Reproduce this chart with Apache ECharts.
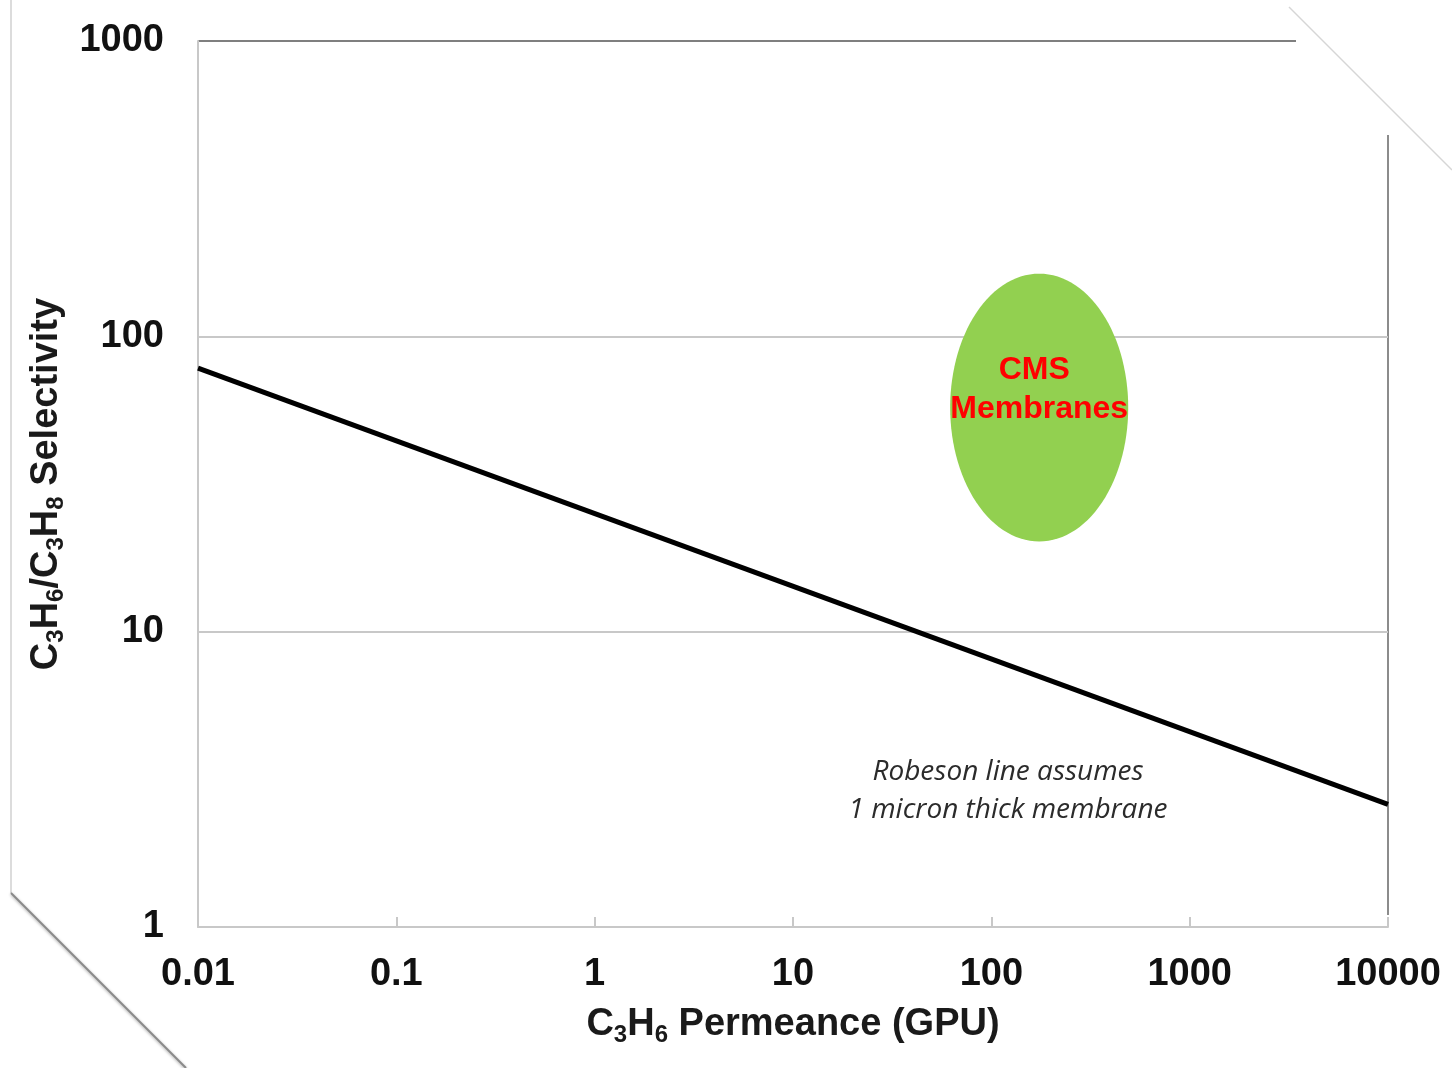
<!DOCTYPE html>
<html>
<head>
<meta charset="utf-8">
<title>C3H6/C3H8 Robeson plot</title>
<script src="https://cdn.jsdelivr.net/npm/echarts@6/dist/echarts.min.js"></script>
<style>
  html, body { margin: 0; padding: 0; background: #ffffff; }
  #chart { width: 1452px; height: 1068px; }
</style>
</head>
<body>
<div id="chart"></div>
<script>
// Upper-bound (Robeson) line: [C3H6 permeance in GPU, C3H6/C3H8 selectivity]
const robesonLine = [[0.01, 78], [10000, 2.6]];

// CMS membrane region: permeance range and selectivity range
const cmsPermeance = [62, 490];
const cmsSelectivity = [20.2, 163];
const cmsLabel = ['CMS', 'Membranes'];

// Axis tick labels (decades)
const xTickLabels = ['0.01', '0.1', '1', '10', '100', '1000', '10000'];
const yTickLabels = ['1', '10', '100', '1000'];

const noteLines = ['Robeson line assumes', '1 micron thick membrane'];

const FONT = '"Liberation Sans", Arial, sans-serif';

const chart = echarts.init(document.getElementById('chart'), null, { renderer: 'canvas' });

function decadeIndex(v, base) {
  return Math.round(Math.log10(v) - base);
}

const subRich = {
  b: { fontFamily: FONT, fontSize: 38, fontWeight: 'bold', color: '#1a1a1a' },
  s: { fontFamily: FONT, fontSize: 24, fontWeight: 'bold', color: '#1a1a1a', padding: [20, 0, 0, 0] }
};

chart.setOption({
  backgroundColor: '#ffffff',
  animation: false,
  grid: { left: 198, right: 64, top: 41, bottom: 141, containLabel: false },
  xAxis: {
    type: 'log',
    logBase: 10,
    min: 0.01,
    max: 10000,
    name: '{b|C}{s|3}{b|H}{s|6}{b| Permeance (GPU)}',
    nameLocation: 'middle',
    nameGap: 76,
    nameTextStyle: { rich: subRich },
    axisLine: { lineStyle: { color: '#c8c8c8', width: 2 } },
    axisTick: { show: true, inside: true, length: 10, lineStyle: { color: '#c8c8c8', width: 2 } },
    axisLabel: {
      margin: 29,
      fontFamily: FONT,
      fontSize: 38,
      fontWeight: 'bold',
      color: '#111111',
      formatter: v => xTickLabels[decadeIndex(v, -2)]
    },
    splitLine: { show: false }
  },
  yAxis: {
    type: 'log',
    logBase: 10,
    min: 1,
    max: 1000,
    name: '{b|C}{s|3}{b|H}{s|6}{b|/C}{s|3}{b|H}{s|8}{b| Selectivity}',
    nameLocation: 'middle',
    nameGap: 118,
    nameRotate: 90,
    nameTextStyle: { rich: subRich },
    axisLine: { show: true, lineStyle: { color: '#c8c8c8', width: 2 } },
    axisTick: { show: false },
    axisLabel: {
      margin: 34,
      fontFamily: FONT,
      fontSize: 38,
      fontWeight: 'bold',
      color: '#111111',
      formatter: v => yTickLabels[decadeIndex(v, 0)]
    },
    splitLine: {
      show: true,
      showMinLine: false,
      showMaxLine: false,
      lineStyle: { color: '#c8c8c8', width: 2 }
    }
  },
  series: [
    {
      type: 'custom',
      name: 'CMS Membranes',
      coordinateSystem: 'cartesian2d',
      encode: { x: [0, 1], y: [2, 3] },
      data: [[cmsPermeance[0], cmsPermeance[1], cmsSelectivity[0], cmsSelectivity[1]]],
      z: 3,
      renderItem: function (params, api) {
        const p1 = api.coord([api.value(0), api.value(2)]);
        const p2 = api.coord([api.value(1), api.value(3)]);
        const cx = (p1[0] + p2[0]) / 2;
        const cy = (p1[1] + p2[1]) / 2;
        const rx = Math.abs(p2[0] - p1[0]) / 2;
        const ry = Math.abs(p2[1] - p1[1]) / 2;
        const pts = [];
        for (let i = 0; i < 120; i++) {
          const t = (i / 120) * Math.PI * 2;
          pts.push([cx + rx * Math.cos(t), cy + ry * Math.sin(t)]);
        }
        return {
          type: 'group',
          children: [
            {
              type: 'polygon',
              shape: { points: pts },
              style: { fill: '#92d050', stroke: null }
            },
            {
              type: 'text',
              x: cx - 5, y: cy - 37,
              style: {
                text: cmsLabel[0], fill: '#ff0000',
                font: 'bold 32px ' + FONT, align: 'center', verticalAlign: 'middle'
              }
            },
            {
              type: 'text',
              x: cx, y: cy + 2,
              style: {
                text: cmsLabel[1], fill: '#ff0000',
                font: 'bold 32px ' + FONT, align: 'center', verticalAlign: 'middle'
              }
            }
          ]
        };
      }
    },
    {
      type: 'line',
      name: 'Robeson upper bound',
      data: robesonLine,
      showSymbol: false,
      lineStyle: { color: '#000000', width: 5 },
      z: 4
    }
  ],
  graphic: [
    // slide frame remnants around the plot
    { type: 'line', shape: { x1: 198, y1: 41, x2: 1296, y2: 41 }, style: { stroke: '#7f7f7f', lineWidth: 2 } },
    { type: 'line', shape: { x1: 1388, y1: 135, x2: 1388, y2: 915 }, style: { stroke: '#8c8c8c', lineWidth: 2 } },
    { type: 'line', shape: { x1: 1289, y1: 7, x2: 1452, y2: 170 }, style: { stroke: '#d6d6d6', lineWidth: 1.5 } },
    { type: 'line', shape: { x1: 11, y1: 0, x2: 11, y2: 893 }, style: { stroke: '#dcdcdc', lineWidth: 2 } },
    {
      type: 'line', shape: { x1: 11, y1: 893, x2: 186, y2: 1068 },
      style: { stroke: '#8a8a8a', lineWidth: 2, shadowColor: 'rgba(0,0,0,0.35)', shadowBlur: 3, shadowOffsetY: 1 }
    },
    {
      type: 'text', x: 1008, y: 772,
      style: {
        text: noteLines[0], fill: '#2b2b2b',
        font: 'italic 28px "Open Sans", sans-serif', align: 'center', verticalAlign: 'middle'
      }
    },
    {
      type: 'text', x: 1008, y: 810,
      style: {
        text: noteLines[1], fill: '#2b2b2b',
        font: 'italic 28px "Open Sans", sans-serif', align: 'center', verticalAlign: 'middle'
      }
    }
  ]
});
</script>
</body>
</html>
